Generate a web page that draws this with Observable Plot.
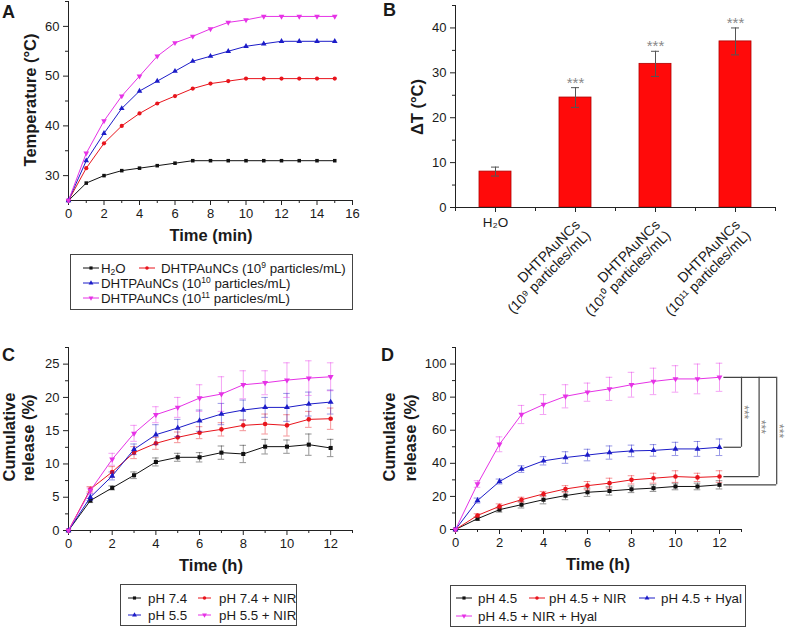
<!DOCTYPE html>
<html><head><meta charset="utf-8">
<script src="https://cdn.jsdelivr.net/npm/d3@7"></script>
<script src="https://cdn.jsdelivr.net/npm/@observablehq/plot@0.6"></script>
<style>
html,body{margin:0;padding:0;background:#fff;}
#root{position:relative;width:785px;height:627px;overflow:hidden;font-family:"Liberation Sans",Arial,sans-serif;color:#1a1a1a;}
.panel{position:absolute;}
.panel svg{overflow:visible;}
.plabel{position:absolute;font-weight:bold;font-size:18px;line-height:1;}
.atitle{position:absolute;font-weight:bold;font-size:16.5px;white-space:nowrap;line-height:1;transform:translate(-50%,-50%);}
.atitle.v{transform:translate(-50%,-50%) rotate(-90deg);}
.legend{position:absolute;border:1px solid #444;box-sizing:border-box;font-size:13.3px;background:#fff;}
.lsym{position:absolute;}
.ltxt{position:absolute;white-space:nowrap;line-height:1;height:13px;transform:translateY(-50%);}
.ltxt sup,.ltxt sub{font-size:8.5px;line-height:0;vertical-align:baseline;position:relative;}
.ltxt sup{top:-5px;}
.ltxt sub{top:2px;}
</style>
</head><body>
<div id="root">
  <div class="panel" id="pA" style="left:0;top:0"></div>
  <div class="panel" id="pB" style="left:400px;top:0"></div>
  <div class="panel" id="pC" style="left:0;top:330px"></div>
  <div class="panel" id="pD" style="left:400px;top:330px"></div>

  <div class="plabel" style="left:2px;top:3px">A</div>
  <div class="plabel" style="left:383px;top:1px">B</div>
  <div class="plabel" style="left:2px;top:346px">C</div>
  <div class="plabel" style="left:381px;top:346px">D</div>

  <div class="atitle v" style="left:30px;top:100px">Temperature (°C)</div>
  <div class="atitle" style="left:211px;top:235px">Time (min)</div>
  <div class="atitle v" style="left:417px;top:107px">ΔT (°C)</div>
  <div class="atitle v" style="left:9px;top:437px">Cumulative</div>
  <div class="atitle v" style="left:28px;top:438px">release (%)</div>
  <div class="atitle" style="left:211px;top:565px">Time (h)</div>
  <div class="atitle v" style="left:389px;top:437px">Cumulative</div>
  <div class="atitle v" style="left:410px;top:438px">release (%)</div>
  <div class="atitle" style="left:598px;top:564px">Time (h)</div>

  <div class="legend" id="legA" style="left:70px;top:254px;width:283px;height:56px"></div>
  <div class="legend" id="legC" style="left:120px;top:584px;width:177px;height:42px"></div>
  <div class="legend" id="legD" style="left:450px;top:585px;width:296px;height:42px"></div>
</div>
<script>
// ---------- DATA ----------
// Panel A: temperature vs time
const timeA = [0,1,2,3,4,5,6,7,8,9,10,11,12,13,14,15];
const tempH2O  = [25,28.5,30,31,31.5,32,32.5,33,33,33,33,33,33,33,33,33];
const temp1e9  = [25,31.5,36.5,40,42.5,44.5,46,47.5,48.5,49,49.5,49.5,49.5,49.5,49.5,49.5];
const temp1e10 = [25,33,38.5,43.5,47,49,51,53,54,55,56,56.5,57,57,57,57];
const temp1e11 = [25,34.5,41,46,50,54,56.7,58,59.5,60.8,61.3,62,62,62,62,62];

// Panel B: delta T bars
const catsB   = ["H2O","1e9","1e10","1e11"];
const labelsB = ["H₂O","DHTPAuNCs\n(10⁹ particles/mL)","DHTPAuNCs\n(10¹⁰ particles/mL)","DHTPAuNCs\n(10¹¹ particles/mL)"];
const deltaT  = [8,24.5,32,37];
const deltaTErr = [1,2.2,2.8,3];
const starsB  = ["","***","***","***"];

// Panel C: cumulative release
const timeRel = [0,1,2,3,4,5,6,7,8,9,10,11,12];
const relC74   = [0,4.5,6.4,8.3,10.3,11,11,11.7,11.5,12.6,12.6,12.9,12.4];
const relC74E  = [0,0.3,0.3,0.5,0.6,0.6,0.7,1.0,1.3,1.1,1.0,1.6,1.3];
const relC74N  = [0,6.2,8.8,11.7,13.1,14,14.7,15.2,15.8,16,15.8,16.7,16.8];
const relC74NE = [0,0.4,0.8,0.9,0.9,0.8,0.9,1.0,0.8,1.5,1.6,1.2,1.6];
const relC55   = [0,5,8.2,12.2,14.4,15.4,16.5,17.5,18.1,18.5,18.5,19,19.3];
const relC55E  = [0,0.5,0.6,0.8,1.5,1.3,1.6,1.6,1.5,1.5,2.1,1.8,1.8];
const relC55N  = [0,6,10.7,14.6,17.4,18.5,19.9,20.5,21.9,22.2,22.6,22.9,23.1];
const relC55NE = [0,0.4,0.9,1.2,1.2,1.5,2.0,2.6,2.1,1.8,2.6,2.6,2.1];

// Panel D: cumulative release at pH 4.5
const relD45   = [0,6.5,12,15,18,20.5,22.5,23.3,24.3,25,26,26,27];
const relD45E  = [0,1,1.5,2,2.5,2.5,2.5,2.5,2,2,2,2,2.5];
const relD45N  = [0,8.5,14,18,21.5,24.5,26.5,28,30,31,32,31.5,32];
const relD45NE = [0,1,1.5,1.5,1.5,2,2.5,3,2.5,3,3.5,2.5,3.5];
const relD45H  = [0,17.5,29,36.5,41.5,43.5,45,46.5,47.5,47.8,48.7,48.7,49.7];
const relD45HE = [0,1.5,1.5,2,2.5,3.5,3.5,4,3.5,3.5,4,4.5,5];
const relD45NH = [0,27.5,51.5,69.5,75.5,80.5,83,85,87.5,89.5,91,91,92];
const relD45NHE= [0,2,4.5,5.5,6,7,5.5,7,7.5,8,8,9,8.5];

// Panel D significance brackets (x in hours, ends at the 12 h values)
const bracketStartX = 12.2;
const bracketTop = 92;
const bracketEnds = [49.7, 32, 27];
const bracketXs = [13.0, 13.8, 14.6];
const bracketText = ["***","***","***"];

// ---------- STYLE ----------
const cBlack = "#111111", cRed = "#e8141c", cBlue = "#1c1cc8", cMag = "#e632e6";
const sqrt3 = Math.sqrt(3);
const triDown = {draw(ctx, size){
  const y = -Math.sqrt(size/(sqrt3*3));
  ctx.moveTo(0,-y*2); ctx.lineTo(-sqrt3*y, y); ctx.lineTo(sqrt3*y, y); ctx.closePath();
}};
const plotStyle = {fontFamily:"Liberation Sans, Arial, sans-serif", fontSize:"13px", color:"#1a1a1a", background:"transparent", overflow:"visible"};

function axes(xMaj, xMin, yMaj, yMin, x0, y0){
  return [
    Plot.axisX(xMaj, {tickSize:5, tickPadding:3, label:null, stroke:"#222"}),
    Plot.axisX(xMin, {tickSize:3, tickFormat:()=>"", label:null, stroke:"#222"}),
    Plot.axisY(yMaj, {tickSize:5, tickPadding:4, label:null, stroke:"#222"}),
    Plot.axisY(yMin, {tickSize:3, tickFormat:()=>"", label:null, stroke:"#222"}),
    Plot.ruleY([y0], {stroke:"#222", strokeWidth:1}),
    Plot.ruleX([x0], {stroke:"#222", strokeWidth:1})
  ];
}

function series(xs, ys, errs, color, symbol, r, capW){
  const d = xs.map((x,i)=>({x, y:ys[i], e: errs ? errs[i] : 0}));
  const m = [];
  if (errs){
    const de = d.filter(p=>p.e>0);
    m.push(Plot.ruleX(de, {x:"x", y1:p=>p.y-p.e, y2:p=>p.y+p.e, stroke:color, strokeOpacity:0.45}));
    m.push(Plot.ruleY(de, {y:p=>p.y+p.e, x1:p=>p.x-capW, x2:p=>p.x+capW, stroke:color, strokeOpacity:0.45}));
    m.push(Plot.ruleY(de, {y:p=>p.y-p.e, x1:p=>p.x-capW, x2:p=>p.x+capW, stroke:color, strokeOpacity:0.45}));
  }
  m.push(Plot.line(d, {x:"x", y:"y", stroke:color, strokeWidth:1}));
  m.push(Plot.dot(d, {x:"x", y:"y", fill:color, symbol, r}));
  return m;
}

// ---------- PANEL A ----------
document.getElementById("pA").append(Plot.plot({
  width:360, height:230, marginTop:1, marginRight:8, marginBottom:30, marginLeft:68,
  style:plotStyle,
  x:{domain:[0,16]}, y:{domain:[25,65]},
  marks:[
    ...axes(d3.range(0,17,2), d3.range(1,16,2), [30,40,50,60], [35,45,55,65], 0, 25),
    ...series(timeA, tempH2O, null, cBlack, "square", 2.0),
    ...series(timeA, temp1e9, null, cRed, "circle", 2.1),
    ...series(timeA, temp1e10, null, cBlue, "triangle", 2.1),
    ...series(timeA, temp1e11, null, cMag, triDown, 2.1)
  ]
}));

// ---------- PANEL B ----------
const dataB = catsB.map((c,i)=>({cat:c, label:labelsB[i], v:deltaT[i], e:deltaTErr[i], s:starsB[i]}));
document.getElementById("pB").append(Plot.plot({
  width:385, height:320, marginTop:5, marginRight:10, marginBottom:113, marginLeft:55,
  style:plotStyle,
  x:{domain:catsB, paddingInner:0.6, paddingOuter:0.3},
  y:{domain:[0,45]},
  marks:[
    Plot.barY(dataB, {x:"cat", y:"v", fill:"#ff0a0a", stroke:"#b00000", strokeWidth:0.8}),
    Plot.ruleX(dataB, {x:"cat", y1:d=>d.v-d.e, y2:d=>d.v+d.e, stroke:"#555"}),
    Plot.tickY(dataB, {x:"cat", y:d=>d.v+d.e, stroke:"#555", insetLeft:12, insetRight:12}),
    Plot.tickY(dataB, {x:"cat", y:d=>d.v-d.e, stroke:"#555", insetLeft:12, insetRight:12}),
    Plot.text(dataB.filter(d=>d.s), {x:"cat", y:d=>d.v+d.e, text:"s", dy:0, lineAnchor:"bottom", fill:"#888", fontSize:15}),
    Plot.axisX(catsB, {tickSize:5, tickFormat:()=>"", label:null, stroke:"#222"}),
    Plot.axisX(catsB, {tickSize:4, dx:-40, tickFormat:()=>"", label:null, stroke:"#222"}),
    Plot.axisX(catsB.slice(-1), {tickSize:4, dx:40, tickFormat:()=>"", label:null, stroke:"#222"}),
    Plot.axisY([0,10,20,30,40], {tickSize:5, tickPadding:4, label:null, stroke:"#222"}),
    Plot.axisY([5,15,25,35,45], {tickSize:3, tickFormat:()=>"", label:null, stroke:"#222"}),
    Plot.ruleY([0], {stroke:"#222"}),
    Plot.frame({anchor:"left", stroke:"#222"}),
    Plot.text(dataB.slice(0,1), {x:"cat", frameAnchor:"bottom", text:"label", dy:15, lineAnchor:"middle", fontSize:13.5}),
    Plot.text(dataB.slice(1), {x:"cat", frameAnchor:"bottom", text:"label", rotate:-45, textAnchor:"end", lineAnchor:"top", lineHeight:1.05, dx:-2, dy:11, fontSize:14})
  ]
}));

// ---------- PANEL C ----------
document.getElementById("pC").append(Plot.plot({
  width:370, height:230, marginTop:17, marginRight:18, marginBottom:30, marginLeft:68,
  style:plotStyle,
  x:{domain:[0,13]}, y:{domain:[0,27.5]},
  marks:[
    ...axes(d3.range(0,13,2), d3.range(1,14,2), [0,5,10,15,20,25], [2.5,7.5,12.5,17.5,22.5,27.5], 0, 0),
    ...series(timeRel, relC74, relC74E, cBlack, "square", 2.3, 0.15),
    ...series(timeRel, relC74N, relC74NE, cRed, "circle", 2.3, 0.15),
    ...series(timeRel, relC55, relC55E, cBlue, "triangle", 2.2, 0.15),
    ...series(timeRel, relC55N, relC55NE, cMag, triDown, 2.2, 0.15)
  ]
}));

// ---------- PANEL D ----------
const br = bracketEnds.map((e,i)=>({end:e, bx:bracketXs[i], t:bracketText[i]}));
document.getElementById("pD").append(Plot.plot({
  width:385, height:230, marginTop:17, marginRight:44, marginBottom:31, marginLeft:55,
  style:plotStyle,
  x:{domain:[0,13]}, y:{domain:[0,110]},
  marks:[
    ...axes(d3.range(0,13,2), d3.range(1,14,2), [0,20,40,60,80,100], [10,30,50,70,90,110], 0, 0),
    ...series(timeRel, relD45, relD45E, cBlack, "square", 2.3, 0.15),
    ...series(timeRel, relD45N, relD45NE, cRed, "circle", 2.3, 0.15),
    ...series(timeRel, relD45H, relD45HE, cBlue, "triangle", 2.2, 0.15),
    ...series(timeRel, relD45NH, relD45NHE, cMag, triDown, 2.2, 0.15),
    Plot.ruleY([bracketTop], {x1:bracketStartX, x2:d3.max(bracketXs), stroke:"#444", strokeWidth:1.2}),
    Plot.ruleY(br, {y:"end", x1:bracketStartX, x2:"bx", stroke:"#444", strokeWidth:1.2}),
    Plot.ruleX(br, {x:"bx", y1:"end", y2:bracketTop, stroke:"#444", strokeWidth:1.2}),
    Plot.text(br, {x:d=>d.bx+0.1, y:d=>(d.end+bracketTop)/2, text:"t", rotate:90, fill:"#888", fontSize:12})
  ]
}));

// ---------- LEGENDS ----------
function symSvg(color, type, w){
  const p = d3.symbol().type(type).size(10)();
  return `<svg width="${w}" height="10" style="display:block;overflow:visible"><line x1="0" x2="${w}" y1="5" y2="5" stroke="${color}" stroke-width="1"/><path d="${p}" transform="translate(${w/2},5)" fill="${color}"/></svg>`;
}
function legend(id, items, rows){
  const el = document.getElementById(id);
  el.innerHTML = items.map(it=>{
    const ry = rows[it.row];
    return `<div class="lsym" style="left:${it.sx}px;top:${ry-5}px">${symSvg(it.color, it.sym, it.sw)}</div>`+
           `<div class="ltxt" style="left:${it.tx}px;top:${ry}px">${it.label}</div>`;
  }).join("");
}
const legALabels = ["H<sub>2</sub>O","DHTPAuNCs (10<sup>9</sup> particles/mL)","DHTPAuNCs (10<sup>10</sup> particles/mL)","DHTPAuNCs (10<sup>11</sup> particles/mL)"];
const legCLabels = ["pH 7.4","pH 7.4 + NIR","pH 5.5","pH 5.5 + NIR"];
const legDLabels = ["pH 4.5","pH 4.5 + NIR","pH 4.5 + Hyal","pH 4.5 + NIR + Hyal"];
const cols4 = [cBlack,cRed,cBlue,cMag];
const syms4 = [d3.symbolSquare,d3.symbolCircle,d3.symbolTriangle,triDown];
const layA = [{row:0,sx:12,tx:30},{row:0,sx:68,tx:90},{row:1,sx:12,tx:30},{row:2,sx:12,tx:30}];
const layC = [{row:0,sx:7,tx:27},{row:0,sx:77,tx:98},{row:1,sx:7,tx:27},{row:1,sx:77,tx:98}];
const layD = [{row:0,sx:5,tx:27},{row:0,sx:78,tx:98},{row:0,sx:188,tx:210},{row:1,sx:5,tx:27}];
legend("legA", layA.map((l,i)=>({...l, label:legALabels[i], color:cols4[i], sym:syms4[i], sw:16})), [12.5,27.5,42.5]);
legend("legC", layC.map((l,i)=>({...l, label:legCLabels[i], color:cols4[i], sym:syms4[i], sw:13})), [12.5,29.5]);
legend("legD", layD.map((l,i)=>({...l, label:legDLabels[i], color:cols4[i], sym:syms4[i], sw:16})), [11.5,29.5]);
</script>
</body></html>
